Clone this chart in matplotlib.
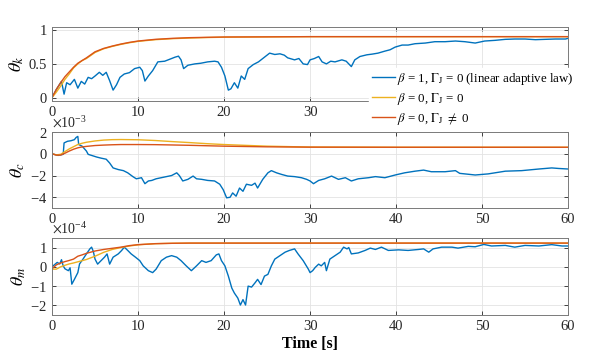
import matplotlib
matplotlib.use("Agg")
import matplotlib.pyplot as plt
from matplotlib.ticker import MultipleLocator, ScalarFormatter, FormatStrFormatter

plt.rcParams['font.family'] = ['Liberation Serif', 'DejaVu Serif']
plt.rcParams['mathtext.fontset'] = 'stix'
plt.rcParams['axes.unicode_minus'] = False

# time grid for the smooth (beta = 0) curves
t_smooth = [0, 0.5, 1, 1.5, 2, 2.5, 3, 3.5, 4, 5, 6, 7, 8, 9, 10, 12, 14, 16, 18, 20, 25, 30, 40, 50, 60]

# theta_k
t_k_blue = [0, 0.5, 1.1, 1.4, 1.7, 2.1, 2.6, 3.0, 3.4, 3.8, 4.2, 4.6, 5.0, 5.5, 5.9, 6.3, 6.7, 7.1,
            7.5, 7.9, 8.4, 9.0, 9.6, 10.2, 10.5, 10.8, 11.2, 11.7, 12.3, 13.1, 13.7, 14.3, 14.7, 15.0,
            15.3, 15.8, 16.6, 17.3, 18.1, 18.9, 19.3, 19.7, 20.1, 20.5, 20.8, 21.2, 21.6, 22.0, 22.4,
            22.8, 23.4, 24.0, 24.5, 25.3, 25.9, 26.5, 27.0, 27.4, 28.2, 28.7, 29.2, 29.7, 30.0, 30.5,
            31.0, 31.4, 31.9, 32.4, 32.9, 33.7, 34.2, 34.8, 35.2, 35.8, 36.6, 37.2, 37.9, 38.7, 39.3,
            39.9, 40.7, 41.4, 42.2, 43.4, 44.5, 45.7, 46.9, 48.0, 49.2, 50.3, 51.5, 52.7, 53.8, 55.0,
            56.2, 57.3, 58.5, 59.7, 60]
k_blue = [0, 0.12, 0.24, 0.05, 0.22, 0.19, 0.27, 0.14, 0.24, 0.2, 0.30, 0.28, 0.32, 0.375, 0.33, 0.375,
          0.25, 0.11, 0.19, 0.30, 0.35, 0.37, 0.43, 0.45, 0.40, 0.245, 0.32, 0.40, 0.53, 0.54, 0.57,
          0.60, 0.615, 0.56, 0.43, 0.48, 0.50, 0.51, 0.53, 0.54, 0.53, 0.45, 0.32, 0.11, 0.13, 0.22,
          0.14, 0.32, 0.27, 0.43, 0.49, 0.53, 0.58, 0.66, 0.64, 0.65, 0.63, 0.59, 0.56, 0.58, 0.50,
          0.49, 0.56, 0.58, 0.61, 0.53, 0.50, 0.54, 0.53, 0.56, 0.54, 0.46, 0.56, 0.61, 0.635, 0.645,
          0.66, 0.69, 0.71, 0.75, 0.78, 0.78, 0.80, 0.81, 0.83, 0.83, 0.84, 0.83, 0.81, 0.84, 0.85,
          0.865, 0.87, 0.87, 0.86, 0.865, 0.87, 0.87, 0.88]
k_yellow = [0, 0.08, 0.17, 0.27, 0.35, 0.44, 0.50, 0.55, 0.58, 0.67, 0.725, 0.76, 0.79, 0.815, 0.835,
            0.86, 0.875, 0.885, 0.892, 0.897, 0.902, 0.905, 0.905, 0.905, 0.905]
k_orange = [0, 0.12, 0.22, 0.31, 0.38, 0.45, 0.51, 0.55, 0.59, 0.68, 0.73, 0.765, 0.795, 0.82, 0.84,
            0.865, 0.88, 0.89, 0.895, 0.9, 0.902, 0.905, 0.905, 0.905, 0.905]

# theta_c (x 1e-3)
t_c_blue = [0, 0.7, 1.3, 1.4, 1.8, 2.2, 2.6, 2.8, 3.0, 3.1, 3.5, 4.0, 4.2, 4.6, 5.2, 5.7, 6.3, 6.7,
            7.1, 7.7, 8.3, 8.8, 9.4, 9.8, 10.4, 10.8, 11.2, 11.6, 12.1, 12.7, 13.3, 13.9, 14.5, 14.8,
            15.2, 15.8, 16.4, 16.8, 17.4, 18.1, 18.9, 19.5, 19.9, 20.3, 20.7, 21.0, 21.4, 21.8, 22.2,
            22.6, 23.2, 23.6, 23.9, 24.5, 25.1, 25.5, 26.1, 26.7, 27.4, 28.2, 29.0, 29.6, 30.0, 30.4,
            31.0, 31.7, 32.5, 33.3, 34.1, 34.8, 35.6, 36.8, 37.6, 38.7, 39.9, 41.0, 42.2, 43.2, 44.1,
            45.7, 46.9, 47.4, 49.2, 50.7, 52.7, 54.6, 56.6, 58.1, 58.9, 60]
c_blue = [0, -0.15, -0.05, 1.0, 1.15, 1.2, 1.3, 1.5, 1.6, 0.85, 0.7, 0.25, -0.05, -0.15, -0.3, -0.4,
          -0.5, -0.85, -1.3, -1.45, -1.55, -1.75, -2.1, -2.3, -2.2, -2.75, -2.5, -2.45, -2.3, -2.2,
          -2.1, -2.0, -1.75, -2.0, -2.5, -2.35, -2.05, -2.3, -2.35, -2.45, -2.5, -2.8, -3.3, -4.05,
          -4.0, -3.6, -3.9, -3.15, -3.45, -2.8, -2.9, -2.7, -3.15, -2.35, -1.75, -1.55, -1.75, -1.9,
          -2.05, -2.1, -2.2, -2.35, -2.5, -2.75, -2.45, -2.3, -2.05, -2.35, -2.2, -2.5, -2.3, -2.2,
          -2.1, -2.2, -1.95, -1.75, -1.6, -1.5, -1.65, -1.65, -1.55, -1.8, -1.95, -1.85, -1.6, -1.55,
          -1.4, -1.3, -1.35, -1.4]
c_yellow = [0, -0.1, -0.05, 0.2, 0.45, 0.65, 0.85, 0.97, 1.06, 1.18, 1.26, 1.3, 1.31, 1.3, 1.29,
            1.22, 1.12, 1.03, 0.93, 0.85, 0.7, 0.62, 0.6, 0.6, 0.6]
c_orange = [0, -0.12, -0.12, 0.05, 0.25, 0.42, 0.55, 0.63, 0.68, 0.76, 0.8, 0.83, 0.85, 0.85, 0.85,
            0.84, 0.81, 0.78, 0.74, 0.7, 0.64, 0.61, 0.6, 0.6, 0.6]

# theta_m (x 1e-4)
t_m_blue = [0, 0.6, 0.9, 1.1, 1.3, 1.5, 1.9, 2.1, 2.3, 2.6, 3.0, 3.2, 3.6, 4.0, 4.4, 4.6, 4.8, 5.0,
            5.3, 5.7, 6.1, 6.4, 6.7, 7.1, 7.7, 8.1, 8.4, 8.8, 9.2, 9.7, 10.2, 10.6, 11.2, 11.7, 12.1,
            12.7, 13.3, 13.9, 14.5, 15.0, 15.6, 16.2, 16.8, 17.4, 17.9, 18.5, 19.1, 19.4, 19.7, 20.1,
            20.5, 20.9, 21.2, 21.6, 21.9, 22.2, 22.5, 22.8, 23.2, 23.6, 23.9, 24.3, 24.7, 25.1, 25.5,
            25.9, 26.5, 27.1, 27.6, 28.2, 28.6, 29.2, 29.8, 30.0, 30.3, 30.6, 31.0, 31.3, 31.7, 31.9,
            32.3, 32.9, 33.5, 33.9, 34.3, 34.5, 34.8, 35.6, 36.4, 37.0, 37.6, 38.3, 39.1, 40.3, 41.4,
            42.6, 43.2, 43.8, 44.3, 45.3, 46.5, 47.2, 48.4, 49.2, 50.2, 51.1, 52.7, 53.8, 55.0, 56.6,
            58.1, 59.3, 60]
m_blue = [0, 0.23, 0.15, 0.37, 0.05, -0.1, -0.2, -0.05, -0.9, -0.65, -0.3, 0.15, 0.4, 0.67, 0.93,
          1.02, 0.8, 0.4, 0.14, 0.32, 0.5, 0.67, 0.14, 0.5, 0.67, 0.85, 1.02, 0.85, 0.67, 0.5, 0.32,
          0.05, -0.2, -0.3, -0.12, 0.32, 0.5, 0.58, 0.5, 0.32, 0.05, -0.2, 0.05, 0.32, 0.23, 0.32,
          0.62, 0.67, 0.32, 0.05, -0.48, -1.1, -1.36, -1.62, -1.98, -1.7, -1.98, -1.0, -1.05, -0.83,
          -0.65, -0.92, -0.48, -0.39, 0.05, 0.4, 0.58, 0.76, 0.85, 0.93, 0.67, 0.32, -0.12, -0.3,
          -0.2, -0.03, 0.14, 0.05, 0.23, -0.2, 0.4, 0.58, 0.76, 1.02, 0.93, 1.0, 0.67, 0.72, 0.85,
          0.97, 0.9, 1.02, 0.85, 0.88, 0.85, 0.9, 0.93, 0.76, 0.93, 1.02, 1.02, 0.97, 1.06, 1.04,
          1.16, 1.08, 1.11, 1.02, 1.11, 1.08, 1.15, 1.08, 1.08]
m_yellow = [-0.12, -0.12, 0.0, 0.08, 0.15, 0.2, 0.26, 0.32, 0.38, 0.55, 0.75, 0.9, 1.0, 1.08, 1.14,
            1.2, 1.22, 1.23, 1.23, 1.23, 1.23, 1.23, 1.23, 1.23, 1.23]
m_orange = [-0.1, 0.1, 0.2, 0.27, 0.33, 0.4, 0.55, 0.62, 0.7, 0.82, 0.9, 0.96, 1.02, 1.1, 1.15,
            1.2, 1.22, 1.23, 1.23, 1.23, 1.23, 1.23, 1.23, 1.23, 1.23]

labels = [r'$\beta$ = 1, $\Gamma_{\rm J}$ = 0 (linear adaptive law)',
          r'$\beta$ = 0, $\Gamma_{\rm J}$ = 0',
          r'$\beta$ = 0, $\Gamma_{\rm J}$ $\neq$ 0']
colors = ['#0072BD', '#EDB120', '#D95319']

fig = plt.figure(figsize=(5.98, 3.54), dpi=100)
left, width = 0.087, 0.863
ax_k = fig.add_axes([left, 0.715, width, 0.209])
ax_c = fig.add_axes([left, 0.412, width, 0.215])
ax_m = fig.add_axes([left, 0.110, width, 0.218])

panels = [
    (ax_k, t_k_blue, k_blue, k_yellow, k_orange, 1.0, r'$\theta_k$', (-0.05, 1.05), 0.5),
    (ax_c, t_c_blue, c_blue, c_yellow, c_orange, 1e-3, r'$\theta_c$', (-5, 2), 2),
    (ax_m, t_m_blue, m_blue, m_yellow, m_orange, 1e-4, r'$\theta_m$', (-2.5, 1.5), 1),
]

for ax, tb, vb, vy, vo, scale, ylab, ylim, step in panels:
    ax.plot(tb, [v * scale for v in vb], color=colors[0], lw=1.0, label=labels[0])
    ax.plot(t_smooth, [v * scale for v in vy], color=colors[1], lw=1.0, label=labels[1])
    ax.plot(t_smooth, [v * scale for v in vo], color=colors[2], lw=1.0, label=labels[2])
    ax.set_xlim(0, 60)
    ax.set_ylim(ylim[0] * scale, ylim[1] * scale)
    ax.xaxis.set_major_locator(MultipleLocator(10))
    ax.yaxis.set_major_locator(MultipleLocator(step * scale))
    if scale != 1.0:
        fmt = ScalarFormatter(useMathText=True)
        fmt.set_powerlimits((0, 0))
        ax.yaxis.set_major_formatter(fmt)
        ax.yaxis.get_offset_text().set_fontsize(10)
        ax.yaxis.get_offset_text().set_color('#262626')
    else:
        ax.yaxis.set_major_formatter(FormatStrFormatter('%g'))
    ax.set_ylabel(ylab, fontsize=13, labelpad=2)
    ax.grid(True, color='#e3e3e3', lw=0.6)
    ax.set_axisbelow(True)
    ax.tick_params(direction='in', top=True, right=True, labelsize=10.5,
                   colors='#262626', length=3, width=0.6)
    for sp in ax.spines.values():
        sp.set_color('#7a7a7a')
        sp.set_linewidth(0.7)

ax_m.set_xlabel('Time [s]', fontsize=11.5, fontweight='bold', labelpad=2)
fig.align_ylabels([ax_k, ax_c, ax_m])

handles, labs = ax_k.get_legend_handles_labels()
fig.legend(handles, labs, loc='upper left', bbox_to_anchor=(0.607, 0.826),
           fontsize=9.3, frameon=True, facecolor='white', edgecolor='white',
           framealpha=1.0, fancybox=False, handlelength=1.8, handletextpad=0.15,
           labelspacing=0.32, borderpad=0.2)

fig.savefig('out.png', dpi=100)
